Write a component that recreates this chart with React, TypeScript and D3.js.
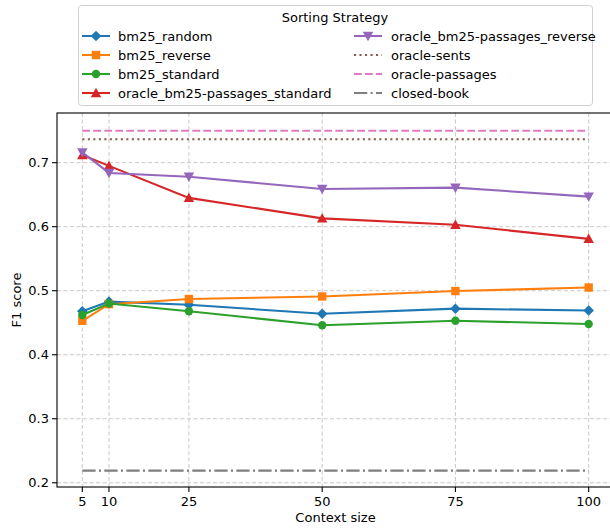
import React from "react";
import * as d3 from "d3";

const contextSizes = [5, 10, 25, 50, 75, 100];
const bm25Random = [0.468, 0.483, 0.478, 0.464, 0.472, 0.469];
const bm25Reverse = [0.453, 0.479, 0.487, 0.491, 0.4995, 0.505];
const bm25Standard = [0.462, 0.480, 0.468, 0.446, 0.453, 0.448];
const oracleStandard = [0.712, 0.695, 0.645, 0.613, 0.603, 0.581];
const oracleReverse = [0.716, 0.684, 0.678, 0.659, 0.661, 0.647];
const oracleSents = 0.7366;
const oraclePassages = 0.750;
const closedBook = 0.219;
const yTicks = [0.2, 0.3, 0.4, 0.5, 0.6, 0.7];

type Series = { name: string; values: number[]; color: string; marker: string };
const series: Series[] = [
  { name: "bm25_random", values: bm25Random, color: "#1f77b4", marker: "diamond" },
  { name: "bm25_reverse", values: bm25Reverse, color: "#ff7f0e", marker: "square" },
  { name: "bm25_standard", values: bm25Standard, color: "#2ca02c", marker: "circle" },
  { name: "oracle_bm25-passages_standard", values: oracleStandard, color: "#d62728", marker: "triUp" },
  { name: "oracle_bm25-passages_reverse", values: oracleReverse, color: "#9467bd", marker: "triDown" },
];
type HLine = { name: string; value: number; color: string; dash: string };
const hlines: HLine[] = [
  { name: "oracle-sents", value: oracleSents, color: "#8c564b", dash: "2.1,3.4" },
  { name: "oracle-passages", value: oraclePassages, color: "#e377c2", dash: "7.7,3.3" },
  { name: "closed-book", value: closedBook, color: "#7f7f7f", dash: "13.3,3.3,2.1,3.3" },
];

const L = 57, R = 614, T = 113, B = 487;
const FONT = "DejaVu Sans, sans-serif";

function Marker({ kind, x, y, color }: { kind: string; x: number; y: number; color: string }) {
  const s = 4.2;
  if (kind === "circle") return <circle cx={x} cy={y} r={s} fill={color} />;
  if (kind === "square") return <rect x={x - s} y={y - s} width={2 * s} height={2 * s} fill={color} />;
  if (kind === "diamond") {
    const d = s * 1.25;
    return <path d={`M${x},${y - d}L${x + d},${y}L${x},${y + d}L${x - d},${y}Z`} fill={color} />;
  }
  if (kind === "triUp") {
    const d = s * 1.25;
    return <path d={`M${x},${y - d}L${x + d},${y + d * 0.8}L${x - d},${y + d * 0.8}Z`} fill={color} />;
  }
  const d = s * 1.25;
  return <path d={`M${x},${y + d}L${x + d},${y - d * 0.8}L${x - d},${y - d * 0.8}Z`} fill={color} />;
}

export default function App() {
  const x = d3.scaleLinear().domain([0.25, 104.75]).range([L, R]);
  const y = d3.scaleLinear().domain([0.1934, 0.7776]).range([B, T]);
  const line = d3
    .line<number>()
    .x((_, i) => x(contextSizes[i]))
    .y((v) => y(v));

  const legendRows1 = series.slice(0, 4);
  const legendRows2: (Series | HLine)[] = [series[4], ...hlines];
  const rowY = (i: number) => 36 + i * 19;

  return (
    <svg width={610} height={529} style={{ position: "absolute", left: 0, top: 0, background: "#fff" }} fontFamily={FONT}>
      <rect x={0} y={0} width={610} height={529} fill="#fff" />
      {/* grid */}
      {contextSizes.map((c) => (
        <line key={"gx" + c} x1={x(c)} x2={x(c)} y1={T} y2={B} stroke="#c8c8c8" strokeWidth={1} strokeDasharray="4,2.5" />
      ))}
      {yTicks.map((t) => (
        <line key={"gy" + t} x1={L} x2={R} y1={y(t)} y2={y(t)} stroke="#c8c8c8" strokeWidth={1} strokeDasharray="4,2.5" />
      ))}
      {/* horizontal reference lines */}
      {hlines.map((h) => (
        <line key={h.name} x1={x(5)} x2={x(100)} y1={y(h.value)} y2={y(h.value)} stroke={h.color} strokeWidth={2.08} strokeDasharray={h.dash} />
      ))}
      {/* series */}
      {series.map((s) => (
        <g key={s.name}>
          <path d={line(s.values) || ""} fill="none" stroke={s.color} strokeWidth={2.08} />
          {s.values.map((v, i) => (
            <Marker key={i} kind={s.marker} x={x(contextSizes[i])} y={y(v)} color={s.color} />
          ))}
        </g>
      ))}
      {/* spines */}
      <rect x={L} y={T} width={R - L} height={B - T} fill="none" stroke="#000" strokeWidth={1.1} />
      {/* ticks */}
      {contextSizes.map((c) => (
        <g key={"tx" + c}>
          <line x1={x(c)} x2={x(c)} y1={B} y2={B + 5} stroke="#000" strokeWidth={1.1} />
          <text x={x(c)} y={B + 19} textAnchor="middle" fontSize={13} fill="#000">{c}</text>
        </g>
      ))}
      {yTicks.map((t) => (
        <g key={"ty" + t}>
          <line x1={L - 5} x2={L} y1={y(t)} y2={y(t)} stroke="#000" strokeWidth={1.1} />
          <text x={L - 8} y={y(t) + 4.6} textAnchor="end" fontSize={13} fill="#000">{t.toFixed(1)}</text>
        </g>
      ))}
      <text x={(L + R) / 2} y={522} textAnchor="middle" fontSize={13} fill="#000">Context size</text>
      <text transform={`translate(21,${(T + B) / 2}) rotate(-90)`} textAnchor="middle" fontSize={13} fill="#000">F1 score</text>
      {/* legend */}
      <rect x={78.5} y={5.5} width={514} height={100} rx={3} fill="#fff" fillOpacity={0.85} stroke="#d0d0d0" strokeWidth={1} />
      <text x={335} y={22} textAnchor="middle" fontSize={13} fill="#000">Sorting Strategy</text>
      {legendRows1.map((s, i) => (
        <g key={"l1" + s.name}>
          <line x1={82} x2={110} y1={rowY(i)} y2={rowY(i)} stroke={s.color} strokeWidth={2.08} />
          <Marker kind={s.marker} x={96} y={rowY(i)} color={s.color} />
          <text x={118} y={rowY(i) + 4.6} fontSize={13} fill="#000">{s.name}</text>
        </g>
      ))}
      {legendRows2.map((s, i) => (
        <g key={"l2" + s.name}>
          {"marker" in s ? (
            <>
              <line x1={354} x2={382} y1={rowY(i)} y2={rowY(i)} stroke={s.color} strokeWidth={2.08} />
              <Marker kind={s.marker} x={368} y={rowY(i)} color={s.color} />
            </>
          ) : (
            <line x1={354} x2={382} y1={rowY(i)} y2={rowY(i)} stroke={s.color} strokeWidth={2.08} strokeDasharray={s.dash} />
          )}
          <text x={391} y={rowY(i) + 4.6} fontSize={13} fill="#000">{s.name}</text>
        </g>
      ))}
    </svg>
  );
}
